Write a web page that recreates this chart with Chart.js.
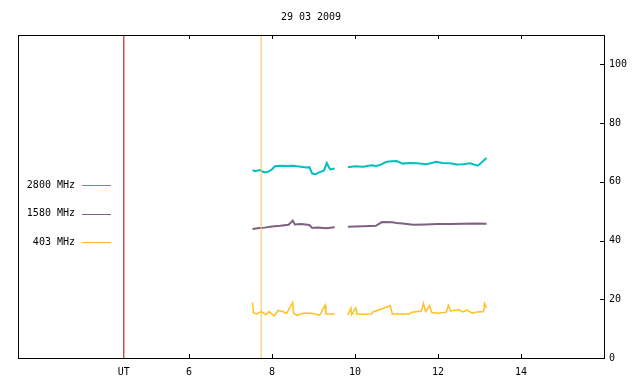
<!DOCTYPE html>
<html>
<head>
<meta charset="utf-8">
<script src="https://cdn.jsdelivr.net/npm/chart.js@4/dist/chart.umd.min.js"></script>
<style>
  body { margin: 0; background: #fff; }
  canvas { display: block; }
</style>
</head>
<body>
<canvas id="fluxChart" width="640" height="384"></canvas>
<script>
const chartTitle = '29 03 2009';
const xMin = 1.88, xMax = 16;
const yMin = 0, yMax = 110;
const xTickHours = [6, 8, 10, 12, 14];
const yTickValues = [0, 20, 40, 60, 80, 100];
const utMarker = 4.43;      // red UT line
const eventMarker = 7.74;   // thin orange line

// 2800 MHz
const hours2800 = [7.53, 7.6, 7.7, 7.82, 7.9, 8.0, 8.07, 8.2, 8.35, 8.5, 8.65, 8.83, 8.9, 8.97, 9.05, 9.15, 9.25, 9.32, 9.4, 9.51,
  9.67,
  9.83, 10.0, 10.2, 10.4, 10.5, 10.6, 10.76, 10.9, 11.0, 11.15, 11.3, 11.5, 11.72, 11.85, 11.96, 12.1, 12.3, 12.44, 12.6, 12.77, 12.96, 13.05, 13.17];
const flux2800 = [64.0, 63.6, 64.0, 63.2, 63.4, 64.2, 65.3, 65.5, 65.4, 65.5, 65.2, 64.9, 65.0, 62.8, 62.6, 63.3, 63.8, 66.4, 64.2, 64.5,
  null,
  65.0, 65.3, 65.1, 65.6, 65.4, 65.7, 66.8, 67.0, 67.1, 66.2, 66.4, 66.3, 66.0, 66.4, 66.8, 66.4, 66.3, 65.9, 66.0, 66.3, 65.5, 66.6, 68.1];

// 1580 MHz
const hours1580 = [7.53, 7.7, 7.82, 8.0, 8.2, 8.4, 8.5, 8.55, 8.7, 8.9, 8.97, 9.1, 9.3, 9.51,
  9.67,
  9.83, 10.0, 10.2, 10.5, 10.65, 10.9, 11.0, 11.15, 11.4, 11.7, 12.0, 12.3, 12.6, 12.9, 13.17];
const flux1580 = [43.9, 44.3, 44.4, 44.8, 45.0, 45.4, 46.8, 45.5, 45.6, 45.3, 44.3, 44.4, 44.2, 44.5,
  null,
  44.7, 44.8, 44.9, 45.0, 46.3, 46.2, 46.0, 45.8, 45.4, 45.5, 45.6, 45.6, 45.7, 45.8, 45.7];

// 403 MHz
const hours403 = [7.53, 7.55, 7.62, 7.75, 7.85, 7.93, 8.05, 8.15, 8.27, 8.35, 8.5, 8.52, 8.6, 8.75, 8.95, 9.15, 9.28, 9.3, 9.51,
  9.67,
  9.83, 9.9, 9.92, 10.02, 10.05, 10.4, 10.42, 10.85, 10.9, 11.3, 11.38, 11.6, 11.65, 11.7, 11.8, 11.85, 12.0, 12.2, 12.25, 12.3, 12.5, 12.6, 12.7, 12.83, 12.9, 13.1, 13.12, 13.17];
const flux403 = [18.9, 15.5, 15.0, 15.8, 14.7, 15.8, 14.3, 16.2, 15.8, 15.1, 18.9, 15.3, 14.5, 15.2, 15.2, 14.6, 18.0, 15.0, 15.0,
  null,
  14.6, 17.0, 14.8, 17.0, 14.9, 15.0, 15.6, 17.8, 15.0, 15.0, 15.6, 16.0, 18.6, 15.8, 17.8, 15.5, 15.2, 15.6, 17.9, 16.0, 16.4, 15.7, 16.3, 15.3, 15.6, 15.8, 18.6, 17.0];

const seriesLabels = ['2800 MHz', '1580 MHz', '403 MHz'];
const seriesColors = ['#00c0c0', '#7f6080', '#ffc020'];

function toPoints(hours, values) {
    return hours.map((h, i) => ({ x: h, y: values[i] }));
}

const fontFamily = '"DejaVu Sans Mono", monospace';

// frame, inward ticks, title and key, gnuplot style
const gnuFrame = {
    id: 'gnuFrame',
    afterDraw(chart) {
        const { ctx, chartArea: a, scales } = chart;
        ctx.save();
        ctx.strokeStyle = '#000';
        ctx.lineWidth = 1;
        ctx.strokeRect(a.left + 0.5, a.top + 0.5, a.right - a.left, a.bottom - a.top);
        ctx.beginPath();
        xTickHours.forEach(h => {
            const x = Math.round(scales.x.getPixelForValue(h)) + 0.5;
            ctx.moveTo(x, a.bottom); ctx.lineTo(x, a.bottom - 4);
            ctx.moveTo(x, a.top); ctx.lineTo(x, a.top + 4);
        });
        yTickValues.forEach(v => {
            const y = Math.round(scales.y.getPixelForValue(v)) + 0.5;
            ctx.moveTo(a.right, y); ctx.lineTo(a.right - 4, y);
        });
        ctx.stroke();

        ctx.fillStyle = '#000';
        ctx.font = '10px ' + fontFamily;
        ctx.textAlign = 'center';
        ctx.textBaseline = 'middle';
        ctx.fillText(chartTitle, (a.left + a.right) / 2, 17);

        ctx.textAlign = 'right';
        seriesLabels.forEach((lab, i) => {
            const y = 185 + i * 28.7;
            ctx.fillStyle = '#000';
            ctx.fillText(lab, a.left + 57, y);
            ctx.strokeStyle = seriesColors[i];
            ctx.beginPath();
            ctx.moveTo(a.left + 64, Math.round(y) + 0.5);
            ctx.lineTo(a.left + 93, Math.round(y) + 0.5);
            ctx.stroke();
        });
        ctx.restore();
    }
};

new Chart(document.getElementById('fluxChart'), {
    type: 'line',
    data: {
        datasets: [
            {
                label: 'UT',
                data: [{ x: utMarker, y: yMin }, { x: utMarker, y: yMax }],
                borderColor: '#a00000',
                borderWidth: 1
            },
            {
                label: 'event',
                data: [{ x: eventMarker, y: yMin }, { x: eventMarker, y: yMax }],
                borderColor: '#f5c060',
                borderWidth: 1
            },
            {
                label: seriesLabels[0],
                data: toPoints(hours2800, flux2800),
                borderColor: seriesColors[0],
                borderWidth: 2
            },
            {
                label: seriesLabels[1],
                data: toPoints(hours1580, flux1580),
                borderColor: seriesColors[1],
                borderWidth: 2
            },
            {
                label: seriesLabels[2],
                data: toPoints(hours403, flux403),
                borderColor: seriesColors[2],
                borderWidth: 1.5
            }
        ]
    },
    options: {
        responsive: false,
        animation: false,
        spanGaps: false,
        elements: { point: { radius: 0 }, line: { tension: 0 } },
        layout: { padding: { top: 35, left: 18, right: 0, bottom: 0 } },
        plugins: {
            legend: { display: false },
            tooltip: { enabled: false }
        },
        scales: {
            x: {
                type: 'linear',
                min: xMin,
                max: xMax,
                grid: { display: false, drawTicks: false },
                border: { display: false },
                afterBuildTicks: s => {
                    s.ticks = [utMarker, ...xTickHours].map(v => ({ value: v }));
                },
                afterFit: s => { s.height = 26; },
                ticks: {
                    padding: 8,
                    maxRotation: 0,
                    autoSkip: false,
                    color: '#000',
                    font: { family: fontFamily, size: 10 },
                    callback: v => v === utMarker ? 'UT' : v
                }
            },
            y: {
                position: 'right',
                min: yMin,
                max: yMax,
                grid: { display: false, drawTicks: false },
                border: { display: false },
                afterFit: s => { s.width = 36; },
                ticks: {
                    stepSize: 20,
                    includeBounds: false,
                    padding: 5,
                    color: '#000',
                    font: { family: fontFamily, size: 10 }
                }
            }
        }
    },
    plugins: [gnuFrame]
});
</script>
</body>
</html>
